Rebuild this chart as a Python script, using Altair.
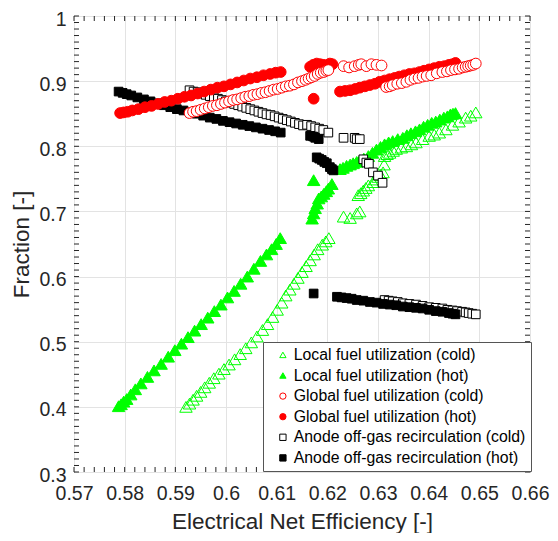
import altair as alt
import pandas as pd
import numpy as np

SERIES = [
    "Local fuel utilization (cold)",
    "Local fuel utilization (hot)",
    "Global fuel utilization (cold)",
    "Global fuel utilization (hot)",
    "Anode off-gas recirculation (cold)",
    "Anode off-gas recirculation (hot)",
]
STROKES = ["#00ff00", "#00ff00", "#ff0000", "#ff0000", "#000000", "#000000"]
FILLS = ["transparent", "#00ff00", "white", "#ff0000", "white", "#000000"]
SHAPES = ["triangle-up", "triangle-up", "circle", "circle", "square", "square"]

X_TICKS = [0.57, 0.58, 0.59, 0.60, 0.61, 0.62, 0.63, 0.64, 0.65, 0.66]
Y_TICKS = [0.3, 0.4, 0.5, 0.6, 0.7, 0.8, 0.9, 1.0]

# Local fuel utilization (cold)
lc_x = [0.5921, 0.5928, 0.5935, 0.5942, 0.5950, 0.5958, 0.5967, 0.5976, 0.5986, 0.5996,
        0.6006, 0.6017, 0.6028, 0.6039, 0.6050, 0.6061, 0.6072, 0.6082, 0.6092, 0.6101,
        0.6110, 0.6118, 0.6126, 0.6134, 0.6142, 0.6150, 0.6158, 0.6166, 0.6174, 0.6181,
        0.6190, 0.6197, 0.6203,
        0.6232, 0.6245, 0.6258, 0.6264, 0.6261, 0.6266, 0.6271, 0.6276, 0.6281, 0.6290,
        0.6295, 0.6300, 0.6305, 0.6310, 0.6312, 0.6313, 0.6318, 0.6323, 0.6330, 0.6336,
        0.6346, 0.6356, 0.6366, 0.6375, 0.6388, 0.6401, 0.6411, 0.6421, 0.6434, 0.6447,
        0.6460, 0.6473, 0.6483, 0.6493]
lc_y = [0.400, 0.405, 0.411, 0.417, 0.423, 0.430, 0.437, 0.444, 0.451, 0.458,
        0.465, 0.473, 0.481, 0.490, 0.499, 0.508, 0.518, 0.527, 0.538, 0.549,
        0.560, 0.571, 0.580, 0.589, 0.598, 0.607, 0.616, 0.625, 0.634, 0.642,
        0.649, 0.654, 0.659,
        0.692, 0.690, 0.697, 0.700, 0.725, 0.728, 0.732, 0.736, 0.740, 0.745,
        0.749, 0.753, 0.756, 0.760, 0.772, 0.785, 0.788, 0.790, 0.793, 0.796,
        0.798, 0.800, 0.803, 0.806, 0.811, 0.816, 0.818, 0.821, 0.826, 0.833,
        0.838, 0.844, 0.847, 0.852]

# Local fuel utilization (hot)
lh_x = [0.5788, 0.5793, 0.5798, 0.5804, 0.5812, 0.5821, 0.5832, 0.5845, 0.5858, 0.5872,
        0.5886, 0.5899, 0.5912, 0.5925, 0.5938, 0.5951, 0.5964, 0.5977, 0.5990, 0.6003,
        0.6016, 0.6029, 0.6042, 0.6055, 0.6068, 0.6080, 0.6090, 0.6099, 0.6107,
        0.6170, 0.6173, 0.6176, 0.6180, 0.6183, 0.6188, 0.6193, 0.6198, 0.6202, 0.6209,
        0.6173,
        0.6225, 0.6231, 0.6238, 0.6245, 0.6251, 0.6258, 0.6264, 0.6272, 0.6281, 0.6289,
        0.6297, 0.6305, 0.6313, 0.6321, 0.6329, 0.6339, 0.6349, 0.6357, 0.6365, 0.6374,
        0.6382, 0.6390, 0.6398, 0.6406, 0.6414, 0.6422, 0.6430, 0.6437, 0.6443, 0.6448,
        0.6453]
lh_y = [0.401, 0.404, 0.408, 0.412, 0.419, 0.427, 0.436, 0.446, 0.456, 0.466,
        0.477, 0.487, 0.497, 0.507, 0.517, 0.527, 0.537, 0.547, 0.557, 0.568,
        0.578, 0.589, 0.600, 0.612, 0.624, 0.634, 0.642, 0.650, 0.659,
        0.689, 0.697, 0.705, 0.712, 0.720, 0.723, 0.727, 0.731, 0.735, 0.742,
        0.748,
        0.765, 0.767, 0.770, 0.772, 0.774, 0.776, 0.778, 0.781, 0.785, 0.790,
        0.795, 0.799, 0.803, 0.806, 0.808, 0.811, 0.813, 0.817, 0.820, 0.823,
        0.826, 0.830, 0.833, 0.836, 0.838, 0.841, 0.844, 0.846, 0.849, 0.850,
        0.851]

# Global fuel utilization (cold)
gc_x = [0.5928, 0.5935, 0.5942, 0.5950, 0.5958, 0.5966, 0.5974, 0.5982, 0.5990, 0.5998,
        0.6006, 0.6014, 0.6022, 0.6030, 0.6038, 0.6046, 0.6054, 0.6062, 0.6070, 0.6078,
        0.6086, 0.6094, 0.6102, 0.6110, 0.6118, 0.6126, 0.6134, 0.6142, 0.6150, 0.6157,
        0.6163, 0.6169, 0.6175, 0.6181, 0.6187, 0.6193, 0.6198, 0.6202,
        0.6232, 0.6243, 0.6254, 0.6262, 0.6267, 0.6277, 0.6287, 0.6297, 0.6307,
        0.6316, 0.6323, 0.6329, 0.6338, 0.6347, 0.6356, 0.6364, 0.6372, 0.6380, 0.6388,
        0.6396, 0.6405, 0.6416, 0.6427, 0.6436, 0.6444, 0.6452, 0.6460, 0.6467, 0.6473,
        0.6478, 0.6483, 0.6488, 0.6493]
gc_y = [0.851, 0.853, 0.854, 0.856, 0.858, 0.860, 0.862, 0.863, 0.865, 0.867,
        0.869, 0.871, 0.872, 0.874, 0.876, 0.877, 0.879, 0.880, 0.882, 0.883,
        0.885, 0.887, 0.888, 0.890, 0.892, 0.893, 0.895, 0.898, 0.900, 0.902,
        0.904, 0.906, 0.908, 0.911, 0.913, 0.914, 0.916, 0.917,
        0.923, 0.921, 0.923, 0.925, 0.926, 0.923, 0.926, 0.925, 0.924,
        0.891, 0.892, 0.894, 0.896, 0.897, 0.899, 0.902, 0.904, 0.905, 0.907,
        0.908, 0.909, 0.912, 0.914, 0.915, 0.917, 0.918, 0.919, 0.921, 0.922,
        0.923, 0.924, 0.925, 0.927]

# Global fuel utilization (hot)
gh_x = [0.5791, 0.5798, 0.5806, 0.5815, 0.5827, 0.5840, 0.5853, 0.5866, 0.5879, 0.5892,
        0.5905, 0.5918, 0.5931, 0.5944, 0.5957, 0.5970, 0.5983, 0.5996, 0.6009, 0.6022,
        0.6035, 0.6048, 0.6061, 0.6074, 0.6087, 0.6098, 0.6108,
        0.6166, 0.6172, 0.6179, 0.6186, 0.6193, 0.6199, 0.6205, 0.6210,
        0.6173,
        0.6225, 0.6235, 0.6245, 0.6255, 0.6264, 0.6274, 0.6284, 0.6294, 0.6303, 0.6313,
        0.6323, 0.6333, 0.6342, 0.6352, 0.6362, 0.6372, 0.6382, 0.6391, 0.6401, 0.6411,
        0.6421, 0.6431, 0.6440, 0.6447, 0.6453]
gh_y = [0.851, 0.852, 0.853, 0.855, 0.857, 0.860, 0.862, 0.865, 0.868, 0.870,
        0.873, 0.876, 0.878, 0.881, 0.884, 0.887, 0.890, 0.892, 0.895, 0.898,
        0.901, 0.904, 0.906, 0.909, 0.911, 0.913, 0.914,
        0.922, 0.925, 0.927, 0.926, 0.925, 0.924, 0.927, 0.926,
        0.873,
        0.884, 0.885, 0.886, 0.888, 0.890, 0.892, 0.894, 0.896, 0.899, 0.901,
        0.903, 0.905, 0.907, 0.909, 0.911, 0.912, 0.914, 0.916, 0.918, 0.920,
        0.922, 0.923, 0.925, 0.926, 0.928]

# Anode off-gas recirculation (cold)
ac_x = [0.5928, 0.5936, 0.5944, 0.5952, 0.5960, 0.5968, 0.5976, 0.5984, 0.5992, 0.6000,
        0.6008, 0.6016, 0.6024, 0.6032, 0.6040, 0.6048, 0.6056, 0.6064, 0.6072, 0.6080,
        0.6088, 0.6096, 0.6104, 0.6112, 0.6120, 0.6128, 0.6136, 0.6144, 0.6152, 0.6160,
        0.6168, 0.6176, 0.6184, 0.6192, 0.6202, 0.6232, 0.6254, 0.6258, 0.6264,
        0.6271, 0.6277, 0.6282, 0.6290, 0.6300, 0.6309,
        0.6313, 0.6321, 0.6329, 0.6339, 0.6349, 0.6362, 0.6375, 0.6388, 0.6401, 0.6414,
        0.6427, 0.6437, 0.6447, 0.6456, 0.6466, 0.6473, 0.6479, 0.6486, 0.6493]
ac_y = [0.886, 0.884, 0.883, 0.881, 0.879, 0.877, 0.875, 0.873, 0.871, 0.869,
        0.867, 0.865, 0.863, 0.861, 0.859, 0.857, 0.855, 0.853, 0.851, 0.849,
        0.848, 0.846, 0.844, 0.842, 0.840, 0.838, 0.836, 0.834, 0.832, 0.833,
        0.831, 0.829, 0.827, 0.825, 0.821, 0.813, 0.813, 0.811, 0.811,
        0.780, 0.775, 0.773, 0.760, 0.755, 0.744,
        0.564, 0.563, 0.562, 0.561, 0.559, 0.558, 0.557, 0.555, 0.553, 0.552,
        0.551, 0.549, 0.548, 0.547, 0.546, 0.545, 0.544, 0.543, 0.542]

# Anode off-gas recirculation (hot)
ah_x = [0.5788, 0.5796, 0.5804, 0.5813, 0.5825, 0.5838, 0.5851, 0.5864, 0.5877, 0.5890,
        0.5903, 0.5916, 0.5929, 0.5942, 0.5955, 0.5968, 0.5981, 0.5994, 0.6007, 0.6020,
        0.6033, 0.6046, 0.6059, 0.6072, 0.6085, 0.6097, 0.6108,
        0.6166, 0.6172, 0.6176, 0.6183,
        0.6179, 0.6184, 0.6189, 0.6194, 0.6199, 0.6205, 0.6209, 0.6212,
        0.6173,
        0.6219, 0.6228, 0.6238, 0.6248, 0.6258, 0.6271, 0.6284, 0.6297, 0.6310, 0.6323,
        0.6336, 0.6349, 0.6362, 0.6375, 0.6388, 0.6401, 0.6414, 0.6427, 0.6440, 0.6447,
        0.6453]
ah_y = [0.884, 0.882, 0.880, 0.878, 0.875, 0.872, 0.869, 0.866, 0.863, 0.860,
        0.857, 0.855, 0.852, 0.850, 0.847, 0.844, 0.842, 0.839, 0.837, 0.835,
        0.833, 0.831, 0.829, 0.827, 0.825, 0.823, 0.821,
        0.816, 0.815, 0.813, 0.811,
        0.783, 0.781, 0.779, 0.776, 0.774, 0.768, 0.765, 0.763,
        0.574,
        0.569, 0.568, 0.567, 0.566, 0.564, 0.563, 0.561, 0.560, 0.558, 0.557,
        0.556, 0.554, 0.553, 0.552, 0.551, 0.549, 0.547, 0.546, 0.544, 0.543,
        0.542]


def frame(name, xs, ys):
    return pd.DataFrame({"series": name, "x": xs, "y": ys})


tri_df = pd.concat([frame(SERIES[1], lh_x, lh_y), frame(SERIES[0], lc_x, lc_y)], ignore_index=True)
sq_df = pd.concat([frame(SERIES[4], ac_x, ac_y), frame(SERIES[5], ah_x, ah_y)], ignore_index=True)
ci_df = pd.concat([frame(SERIES[3], gh_x, gh_y), frame(SERIES[2], gc_x, gc_y)], ignore_index=True)
for d in (tri_df, sq_df, ci_df):
    d["order"] = np.arange(len(d))

W, H = 456, 456
PAD_L, PAD_T, PAD_R, PAD_B = 66, 8, 20, 61
FONT = "Liberation Sans"
TXT = "#262626"

xscale = alt.Scale(domain=[0.57, 0.66], nice=False, zero=False)
yscale = alt.Scale(domain=[0.3, 1.0], nice=False, zero=False)

xaxis = alt.Axis(values=X_TICKS, format=".2~f", grid=True, gridColor="#e3e3e3", gridWidth=1,
                 ticks=False, tickSize=0, domain=False, labelFont=FONT, labelFontSize=19.5,
                 labelColor=TXT, labelPadding=27, labelBaseline="alphabetic", labelFlush=False,
                 labelOverlap=False, title="Electrical Net Efficiency [-]", titleFont=FONT,
                 titleFontSize=22.5, titleFontWeight="normal", titleColor=TXT, titleX=W / 2,
                 titleY=56, titleBaseline="alphabetic", titleAlign="center")
yaxis = alt.Axis(values=Y_TICKS, format=".1~f", grid=True, gridColor="#e3e3e3", gridWidth=1,
                 ticks=False, tickSize=0, domain=False, labelFont=FONT, labelFontSize=19.5,
                 labelColor=TXT, labelPadding=8, labelOffset=3, labelFlush=False,
                 labelOverlap=False,
                 title="Fraction [-]", titleFont=FONT, titleFontSize=22.5,
                 titleFontWeight="normal", titleColor=TXT, titleX=-46, titleY=H / 2,
                 titleAngle=-90, titleBaseline="alphabetic", titleAlign="center")

legend = alt.Legend(title=None, orient="none", legendX=189, legendY=326)


def enc(chart):
    return chart.encode(
        x=alt.X("x:Q", scale=xscale, axis=xaxis),
        y=alt.Y("y:Q", scale=yscale, axis=yaxis),
        stroke=alt.Stroke("series:N", scale=alt.Scale(domain=SERIES, range=STROKES), legend=legend),
        fill=alt.Fill("series:N", scale=alt.Scale(domain=SERIES, range=FILLS), legend=legend),
        shape=alt.Shape("series:N", scale=alt.Scale(domain=SERIES, range=SHAPES), legend=legend),
        order=alt.Order("order:Q"),
    )


tri = enc(alt.Chart(tri_df).mark_point(size=155, strokeWidth=1, opacity=1, fillOpacity=1))
sq = enc(alt.Chart(sq_df).mark_point(size=75, strokeWidth=1, opacity=1, fillOpacity=1))
ci = enc(alt.Chart(ci_df).mark_point(size=115, strokeWidth=1, opacity=1, fillOpacity=1))

xt = pd.DataFrame({"x": np.round(np.arange(0.57, 0.6601, 0.002), 4)})
yt = pd.DataFrame({"y": np.round(np.arange(0.30, 1.0001, 0.01), 3)})
TL = 5
tick_b = alt.Chart(xt).mark_rule(color=TXT, strokeWidth=1).encode(
    x=alt.X("x:Q", scale=xscale, axis=xaxis), y=alt.value(H), y2=alt.value(H - TL))
tick_t = alt.Chart(xt).mark_rule(color=TXT, strokeWidth=1).encode(
    x=alt.X("x:Q", scale=xscale, axis=xaxis), y=alt.value(0), y2=alt.value(TL))
tick_l = alt.Chart(yt).mark_rule(color=TXT, strokeWidth=1).encode(
    y=alt.Y("y:Q", scale=yscale, axis=yaxis), x=alt.value(0), x2=alt.value(TL))
tick_r = alt.Chart(yt).mark_rule(color=TXT, strokeWidth=1).encode(
    y=alt.Y("y:Q", scale=yscale, axis=yaxis), x=alt.value(W), x2=alt.value(W - TL))

chart = alt.layer(tri, sq, ci, tick_b, tick_t, tick_l, tick_r).properties(
    width=W, height=H,
    autosize=alt.AutoSizeParams(type="none"),
    padding={"left": PAD_L, "top": PAD_T, "right": PAD_R, "bottom": PAD_B},
).configure_view(stroke=TXT, strokeWidth=1).configure_legend(
    labelFont=FONT, labelFontSize=15.8, labelColor="#000000", labelLimit=0,
    symbolSize=40, symbolStrokeWidth=1, rowPadding=3.6, padding=5,
    symbolOffset=7, labelOffset=3, strokeColor="#555555", fillColor="white",
    cornerRadius=0,
)

chart.save("out.html", embed_options={"renderer": "svg", "actions": False})
